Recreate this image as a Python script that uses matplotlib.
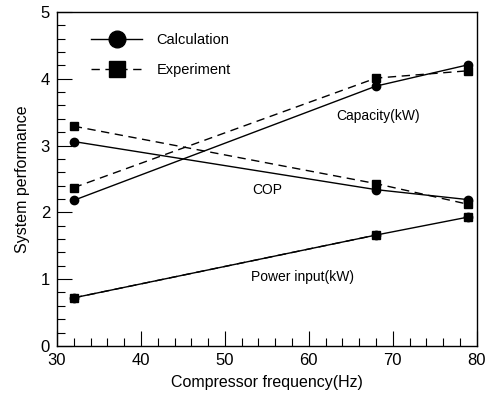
import matplotlib
matplotlib.use('Agg')
import matplotlib.pyplot as plt
from matplotlib.ticker import MultipleLocator

plt.rcParams['font.family'] = ['Liberation Sans', 'DejaVu Sans']

# Données
freq = [32, 68, 79]
cap_calc = [2.18, 3.89, 4.21]
cap_exp = [2.37, 4.01, 4.12]
cop_calc = [3.06, 2.34, 2.19]
cop_exp = [3.29, 2.43, 2.12]
pow_calc = [0.72, 1.66, 1.93]
pow_exp = [0.72, 1.66, 1.93]

fig = plt.figure(figsize=(4.87, 3.99), dpi=100)
ax = fig.add_axes([0.117, 0.133, 0.862, 0.837])

calc_kw = dict(color="black", lw=1.0, ls="-", marker="o", markersize=6)
exp_kw = dict(color="black", lw=1.0, ls=(0, (6, 4)), marker="s", markersize=6)

ax.plot(freq, cap_calc, **calc_kw)
ax.plot(freq, cap_exp, **exp_kw)
ax.plot(freq, cop_calc, **calc_kw)
ax.plot(freq, cop_exp, **exp_kw)
ax.plot(freq[2:], pow_exp[2:], **exp_kw)
ax.plot(freq, pow_calc, **calc_kw)
ax.plot(freq[:2], pow_exp[:2], **exp_kw)

# légende
ax.plot([], [], label="Calculation", color="black", lw=1.0, marker="o", markersize=12)
ax.plot([], [], label="Experiment", color="black", lw=1.0, ls=(0, (6, 4)), marker="s", markersize=11)
h, l = ax.get_legend_handles_labels()
ax.legend(h[-2:], l[-2:], loc="upper left", bbox_to_anchor=(0.05, 0.975), frameon=False,
          fontsize=10.5, handlelength=3.5, handletextpad=1.0, labelspacing=1.1)

ax.text(68.2, 3.44, "Capacity(kW)", ha="center", va="center", fontsize=10)
ax.text(55.0, 2.34, "COP", ha="center", va="center", fontsize=10)
ax.text(59.2, 1.03, "Power input(kW)", ha="center", va="center", fontsize=10)

ax.set_xlim(30, 80)
ax.set_ylim(0, 5)
ax.xaxis.set_major_locator(MultipleLocator(10))
ax.xaxis.set_minor_locator(MultipleLocator(2))
ax.yaxis.set_major_locator(MultipleLocator(1))
ax.yaxis.set_minor_locator(MultipleLocator(0.2))
ax.tick_params(which="major", direction="in", length=11, width=0.8, labelsize=12, pad=5)
ax.tick_params(which="minor", direction="in", length=6, width=0.8)
for s in ax.spines.values():
    s.set_linewidth(1.0)

ax.set_xlabel("Compressor frequency(Hz)", fontsize=11.5, labelpad=5)
ax.set_ylabel("System performance", fontsize=11.5, labelpad=8)

fig.savefig("out.png", dpi=100)
